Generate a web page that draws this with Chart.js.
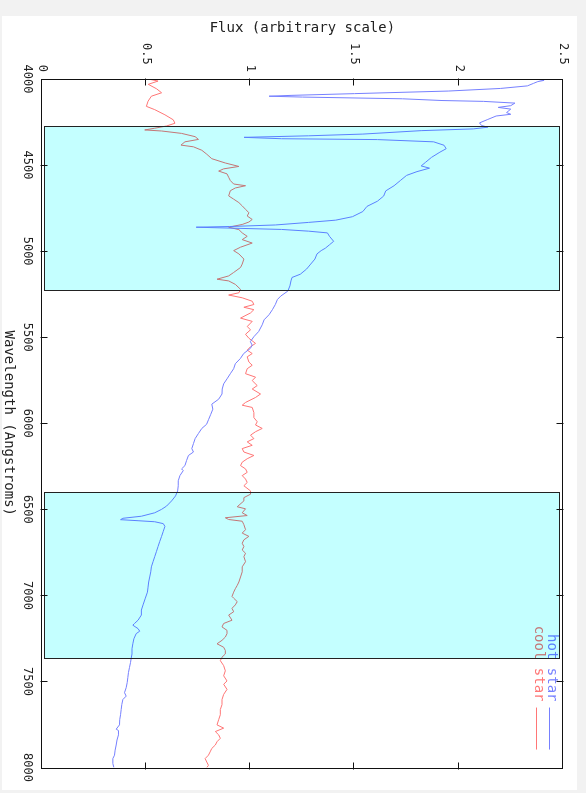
<!DOCTYPE html>
<html>
<head>
<meta charset="utf-8">
<script src="https://cdn.jsdelivr.net/npm/chart.js@4/dist/chart.umd.min.js"></script>
<style>
  html, body { margin: 0; padding: 0; background: #f2f2f2; }
  #frame { position: absolute; left: 2px; top: 16px; width: 575px; height: 774px; background: #fff; overflow: hidden; }
  /* the plot is drawn the normal way and then turned a quarter clockwise */
  #spectra { position: absolute; left: 0; top: 0; transform-origin: 0 0; transform: translate(575px, 0) rotate(90deg); }
</style>
</head>
<body>
<div id="frame"><canvas id="spectra" width="774" height="575"></canvas></div>
<script>
'use strict'

// hot star spectrum (wavelength in Angstroms, flux)
const hotWave = [4000, 4008, 4015, 4025, 4040, 4055, 4070, 4085, 4095, 4100, 4105, 4115, 4125, 4130, 4140, 4155, 4165, 4175, 4195, 4205,
  4215, 4235, 4255, 4270, 4280, 4290, 4300, 4320, 4330, 4339, 4347, 4352, 4365, 4385, 4405, 4425, 4455, 4485, 4505, 4518,
  4538, 4560, 4590, 4620, 4650, 4680, 4710, 4740, 4770, 4800, 4820, 4833, 4848, 4857, 4861, 4868, 4874, 4884, 4894, 4914,
  4943, 4963, 4983, 4997, 5016, 5046, 5075, 5104, 5134, 5153, 5173, 5202, 5232, 5261, 5281, 5310, 5340, 5369, 5399, 5428,
  5467, 5497, 5526, 5546, 5565, 5595, 5624, 5654, 5683, 5712, 5742, 5771, 5801, 5830, 5860, 5889, 5918, 5948, 5977, 6006,
  6030, 6059, 6089, 6118, 6147, 6167, 6187, 6216, 6246, 6265, 6275, 6304, 6334, 6363, 6393, 6422, 6451, 6481, 6500, 6520,
  6540, 6552, 6560, 6566, 6572, 6583, 6599, 6628, 6657, 6687, 6716, 6746, 6775, 6804, 6834, 6863, 6893, 6922, 6952, 6981,
  7016, 7055, 7085, 7114, 7144, 7163, 7173, 7193, 7208, 7222, 7252, 7281, 7310, 7340, 7365, 7389, 7418, 7448, 7477, 7506,
  7536, 7565, 7585, 7605, 7634, 7663, 7693, 7722, 7752, 7777, 7785, 7810, 7840, 7869, 7899, 7928, 7948, 7977, 8000];
const hotFlux = [2.37, 2.41, 2.38, 2.36, 2.33, 2.20, 1.95, 1.50, 1.20, 1.09, 1.25, 1.73, 1.92, 2.12, 2.27, 2.25, 2.19, 2.25, 2.23, 2.25,
  2.18, 2.14, 2.10, 2.11, 2.14, 2.07, 1.82, 1.54, 1.28, 0.97, 1.15, 1.61, 1.88, 1.93, 1.94, 1.91, 1.87, 1.84, 1.82, 1.86,
  1.80, 1.75, 1.72, 1.69, 1.65, 1.64, 1.61, 1.56, 1.54, 1.49, 1.41, 1.28, 1.12, 0.90, 0.74, 0.96, 1.15, 1.28, 1.37, 1.38,
  1.40, 1.38, 1.36, 1.34, 1.32, 1.31, 1.29, 1.27, 1.24, 1.20, 1.195, 1.19, 1.18, 1.146, 1.13, 1.12, 1.106, 1.09, 1.066, 1.057,
  1.04, 1.017, 1.00, 1.009, 1.00, 0.968, 0.952, 0.928, 0.92, 0.904, 0.888, 0.872, 0.865, 0.864, 0.848, 0.815, 0.82, 0.81, 0.80, 0.79,
  0.767, 0.751, 0.735, 0.727, 0.719, 0.727, 0.703, 0.694, 0.686, 0.67, 0.678, 0.662, 0.654, 0.654, 0.651, 0.641, 0.622, 0.598, 0.574, 0.541,
  0.477, 0.388, 0.377, 0.461, 0.541, 0.582, 0.59, 0.582, 0.574, 0.565, 0.557, 0.549, 0.541, 0.533, 0.525, 0.522, 0.517, 0.512, 0.509, 0.506,
  0.496, 0.485, 0.477, 0.477, 0.461, 0.444, 0.436, 0.461, 0.469, 0.452, 0.441, 0.436, 0.432, 0.432, 0.428, 0.425, 0.42, 0.415, 0.412, 0.409,
  0.404, 0.396, 0.404, 0.388, 0.383, 0.38, 0.377, 0.373, 0.372, 0.356, 0.367, 0.367, 0.36, 0.356, 0.351, 0.348, 0.34, 0.34, 0.345];

// cool star spectrum
const coolWave = [4000, 4012, 4031, 4057, 4080, 4100, 4129, 4159, 4178, 4208, 4237, 4257, 4273, 4286, 4296, 4302, 4316, 4335, 4351, 4365,
  4384, 4394, 4414, 4437, 4463, 4488, 4508, 4522, 4535, 4551, 4571, 4590, 4610, 4620, 4633, 4649, 4679, 4698, 4718, 4737,
  4757, 4777, 4796, 4816, 4831, 4845, 4861, 4875, 4894, 4914, 4933, 4953, 4977, 4997, 5016, 5046, 5075, 5095, 5124, 5144,
  5163, 5173, 5193, 5222, 5242, 5255, 5271, 5291, 5310, 5326, 5340, 5359, 5389, 5408, 5438, 5457, 5483, 5506, 5536, 5555,
  5575, 5595, 5614, 5644, 5663, 5683, 5712, 5732, 5752, 5781, 5801, 5830, 5850, 5879, 5895, 5908, 5938, 5967, 5991, 6010,
  6030, 6049, 6069, 6089, 6108, 6128, 6147, 6167, 6187, 6206, 6226, 6246, 6265, 6285, 6304, 6324, 6344, 6363, 6393, 6412,
  6432, 6451, 6485, 6497, 6520, 6536, 6549, 6559, 6569, 6589, 6618, 6638, 6657, 6677, 6697, 6716, 6736, 6755, 6775, 6804,
  6834, 6863, 6893, 6922, 6942, 6961, 6981, 7006, 7016, 7036, 7055, 7075, 7095, 7114, 7144, 7163, 7183, 7203, 7222, 7242,
  7261, 7281, 7301, 7320, 7340, 7359, 7379, 7408, 7438, 7467, 7497, 7516, 7546, 7575, 7605, 7634, 7663, 7693, 7722, 7752,
  7771, 7791, 7810, 7830, 7850, 7869, 7889, 7909, 7928, 7948, 7968, 7987, 8000];
const coolFlux = [0.51, 0.557, 0.51, 0.55, 0.574, 0.525, 0.509, 0.501, 0.541, 0.59, 0.63, 0.638, 0.598, 0.541, 0.493, 0.574, 0.67, 0.735, 0.751, 0.686,
  0.667, 0.727, 0.767, 0.791, 0.815, 0.88, 0.945, 0.872, 0.848, 0.888, 0.896, 0.904, 0.92, 0.977, 0.928, 0.904, 0.896, 0.92, 0.945, 0.961,
  0.977, 0.993, 0.985, 1.009, 0.993, 0.961, 0.896, 0.945, 0.961, 0.985, 0.961, 1.009, 0.953, 0.92, 0.945, 0.969, 0.961, 0.953, 0.92, 0.896,
  0.84, 0.896, 0.928, 0.953, 0.945, 0.896, 0.961, 1.009, 1.017, 0.969, 1.017, 1.001, 0.953, 1.009, 0.985, 1.001, 0.977, 0.993, 1.025, 1.001,
  0.985, 1.009, 0.985, 0.993, 1.009, 0.985, 0.977, 1.025, 1.009, 1.033, 1.009, 1.049, 1.025, 0.977, 0.961, 1.009, 1.017, 1.017, 1.033, 1.025,
  1.057, 1.025, 1.001, 1.017, 0.985, 1.009, 0.961, 0.969, 1.017, 0.985, 0.961, 0.953, 0.977, 0.985, 0.961, 0.977, 0.985, 0.969, 1.001, 1.001,
  0.969, 0.969, 0.937, 0.977, 0.961, 0.985, 0.88, 0.896, 0.961, 0.969, 0.977, 0.961, 0.993, 0.969, 0.961, 0.969, 0.961, 0.977, 0.969, 0.977,
  0.961, 0.961, 0.953, 0.945, 0.937, 0.928, 0.92, 0.912, 0.92, 0.937, 0.928, 0.912, 0.92, 0.896, 0.912, 0.872, 0.864, 0.888, 0.888, 0.88,
  0.864, 0.84, 0.872, 0.88, 0.88, 0.864, 0.856, 0.872, 0.88, 0.872, 0.888, 0.872, 0.888, 0.872, 0.864, 0.864, 0.856, 0.856, 0.848, 0.84,
  0.872, 0.832, 0.848, 0.856, 0.84, 0.832, 0.815, 0.807, 0.799, 0.783, 0.791, 0.799, 0.791];

// shaded wavelength bands
const bandStart = [4275, 6400];
const bandEnd = [5228, 7365];

const legendNames = ['hot star', 'cool star'];
const lineColors = ['rgb(118,128,255)', 'rgb(255,118,118)'];

const monoFont = '"DejaVu Sans Mono", "Liberation Mono", monospace';

function toPoints(waves, fluxes) {
  return waves.map((w, i) => ({ x: w, y: fluxes[i] }));
}

// legend, shaded bands, frame and inward ticks
const spectraDecor = {
  id: 'spectraDecor',
  afterDatasetsDraw(chart) {
    const ctx = chart.ctx;
    const xs = chart.scales.x;
    const ys = chart.scales.y;
    const area = chart.chartArea;
    ctx.save();

    // legend: name first, then a short line
    ctx.font = '14px ' + monoFont;
    ctx.textAlign = 'right';
    ctx.textBaseline = 'middle';
    ctx.lineWidth = 1;
    legendNames.forEach((name, i) => {
      const y = Math.round(area.top + 13 + i * 13) + 0.5;
      ctx.fillStyle = lineColors[i];
      ctx.fillText(name, area.right - 66, y - 2);
      ctx.strokeStyle = lineColors[i];
      ctx.beginPath();
      ctx.moveTo(area.right - 60, y);
      ctx.lineTo(area.right - 18, y);
      ctx.stroke();
    });

    // cyan bands tint whatever lies under them
    ctx.globalCompositeOperation = 'multiply';
    ctx.fillStyle = 'rgb(196,255,255)';
    const yTop = Math.round(ys.getPixelForValue(2.485));
    const yBot = Math.round(ys.getPixelForValue(0.015));
    bandStart.forEach((b, i) => {
      const x0 = Math.round(xs.getPixelForValue(b));
      const x1 = Math.round(xs.getPixelForValue(bandEnd[i]));
      ctx.fillRect(x0, yTop, x1 - x0, yBot - yTop);
    });
    ctx.globalCompositeOperation = 'source-over';
    ctx.strokeStyle = '#222';
    bandStart.forEach((b, i) => {
      const x0 = Math.round(xs.getPixelForValue(b));
      const x1 = Math.round(xs.getPixelForValue(bandEnd[i]));
      ctx.strokeRect(x0 + 0.5, yTop + 0.5, x1 - x0, yBot - yTop);
    });

    // plot frame
    const l = Math.round(area.left) + 0.5, r = Math.round(area.right) + 0.5;
    const t = Math.round(area.top) + 0.5, b = Math.round(area.bottom) + 0.5;
    ctx.strokeStyle = '#111';
    ctx.strokeRect(l, t, r - l, b - t);

    // ticks pointing into the plot on all four sides
    ctx.beginPath();
    xs.ticks.forEach(tk => {
      if (tk.value <= xs.min || tk.value >= xs.max) return;
      const px = Math.round(xs.getPixelForValue(tk.value)) + 0.5;
      ctx.moveTo(px, b + 1); ctx.lineTo(px, b - 6);
      ctx.moveTo(px, t - 1); ctx.lineTo(px, t + 6);
    });
    ys.ticks.forEach(tk => {
      if (tk.value <= ys.min || tk.value >= ys.max) return;
      const py = Math.round(ys.getPixelForValue(tk.value)) + 0.5;
      ctx.moveTo(l - 1, py); ctx.lineTo(l + 6, py);
      ctx.moveTo(r + 1, py); ctx.lineTo(r - 6, py);
    });
    ctx.stroke();
    ctx.restore();
  }
};

const ctx = document.getElementById('spectra').getContext('2d');

const spectraChart = new Chart(ctx, {
  type: 'scatter',
  data: {
    datasets: [{
      label: legendNames[0],
      data: toPoints(hotWave, hotFlux),
      borderColor: lineColors[0],
      borderWidth: 1,
      showLine: true,
      pointRadius: 0,
      tension: 0
    }, {
      label: legendNames[1],
      data: toPoints(coolWave, coolFlux),
      borderColor: lineColors[1],
      borderWidth: 1,
      showLine: true,
      pointRadius: 0,
      tension: 0
    }]
  },
  options: {
    responsive: false,
    animation: false,
    devicePixelRatio: 1,
    layout: { padding: { top: 10, right: 19, left: 0, bottom: 0 } },
    plugins: {
      legend: { display: false },
      tooltip: { enabled: false }
    },
    scales: {
      x: {
        type: 'linear',
        min: 4000,
        max: 8000,
        grid: { display: false, drawTicks: false },
        border: { display: false },
        ticks: {
          stepSize: 500,
          padding: 8,
          maxRotation: 0,
          color: '#222',
          font: { family: monoFont, size: 12 },
          callback: v => String(v)
        },
        title: {
          display: true,
          text: 'Wavelength (Angstroms)',
          color: '#222',
          font: { family: monoFont, size: 14 },
          padding: { top: 0, bottom: -2 }
        },
        afterFit: s => { s.height = 40; }
      },
      y: {
        type: 'linear',
        min: 0,
        max: 2.5,
        grid: { display: false, drawTicks: false },
        border: { display: false },
        ticks: {
          stepSize: 0.5,
          padding: 7,
          color: '#222',
          font: { family: monoFont, size: 12 },
          // the fractional labels sit a bit further from the axis
          callback: v => { const s = String(v); return s.length > 1 ? s + ' ' : s; }
        },
        title: {
          display: true,
          text: 'Flux (arbitrary scale)',
          color: '#222',
          font: { family: monoFont, size: 14 },
          padding: { top: 4, bottom: 0 }
        },
        afterFit: s => { s.width = 63; }
      }
    }
  },
  plugins: [spectraDecor]
});
</script>
</body>
</html>
